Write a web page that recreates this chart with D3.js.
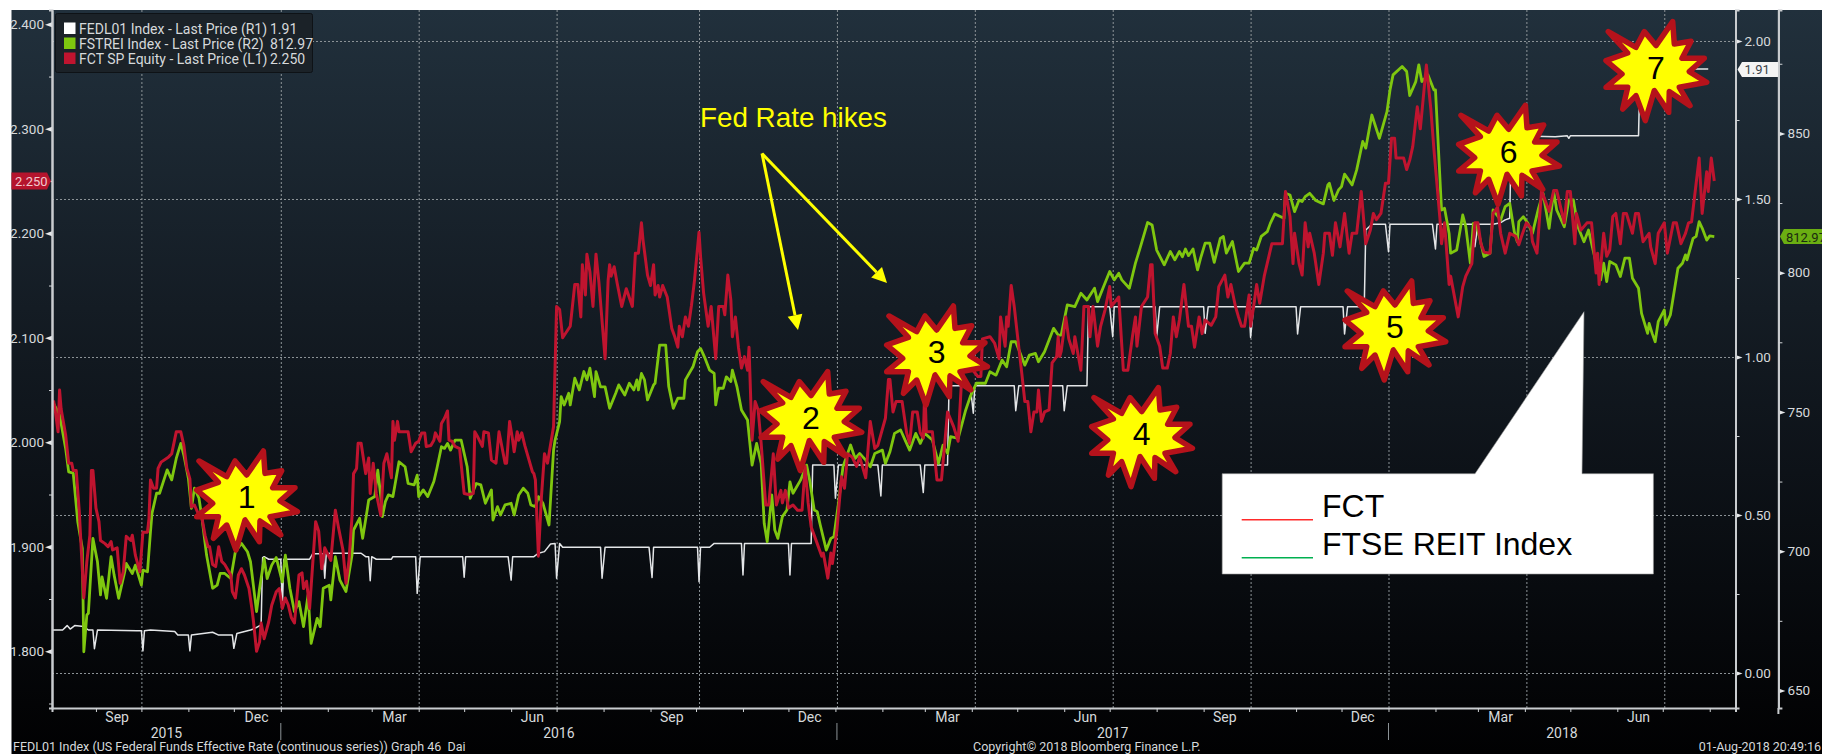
<!DOCTYPE html>
<html>
<head>
<meta charset="utf-8">
<title>FCT vs FTSE REIT Index</title>
<script src="https://cdn.jsdelivr.net/npm/d3@7"></script>
<style>
  html, body { margin: 0; padding: 0; background: #fff; overflow: hidden; }
  svg { display: block; }
  .bbg { font-family: 'Liberation Sans Narrow', 'Roboto', sans-serif; font-size: 14px; fill: #d6d9db; }
  .bbg.small { font-size: 13px; }
  .bbg.footer { font-size: 12.5px; }
  .axis path.domain { stroke: #c9cccf; stroke-width: 2; }
  .axis line { stroke: #d0d3d6; }
  .axis text { font-family: 'Liberation Sans Narrow', 'Roboto', sans-serif; font-size: 13.5px; fill: #d6d9db; }
  .grid path.domain { display: none; }
  .grid line { stroke: #8d9498; stroke-dasharray: 2 2; stroke-width: 1; }
  .slide { font-family: 'Liberation Sans', Arial, sans-serif; }
</style>
</head>
<body>
<script>
const startDate = new Date(2015, 7, 3)
const endDay = 1111

// days since startDate
const fctDays = [1,2,4,5,6,9,11,13,14,16,18,21,23,25,26,27,29,31,32,35,37,39,40,43,45,47,49,52,53,55,58,60,63,64,65,67,69,70,72,77,79,82,85,87,89,91,92,94,97,99,101,103,104,106,108,110,112,114,118,119,121,123,125,127,130,132,133,135,137,138,140,143,145,148,150,152,154,156,158,160,163,165,166,168,170,174,176,178,180,
  184,187,189,192,194,196,198,199,201,202,204,207,209,210,212,214,217,219,221,224,225,226,228,229,235,237,240,242,244,246,247,250,252,253,256,257,259,261,262,264,266,269,272,275,278,279,281,284,285,288,290,293,295,299,300,302,304,305,307,308,310,312,317,318,319,321,323,325,327,328,331,333,335,337,342,345,347,349,350,352,353,355,357,359,361,365,367,
  368,369,371,373,376,379,383,385,387,389,390,393,395,397,398,400,401,403,406,409,411,413,414,416,418,420,422,424,427,428,430,433,435,438,440,443,444,446,448,449,451,453,455,457,459,460,462,464,466,468,471,473,476,478,481,482,484,486,489,492,495,497,499,501,505,508,509,512,514,515,518,521,523,525,528,531,533,537,540,543,545,550,552,
  553,555,557,561,564,566,568,571,573,575,576,577,581,584,587,591,595,598,600,603,606,611,613,614,619,622,625,626,629,630,631,633,635,637,640,642,644,646,648,650,651,653,655,658,660,663,664,665,666,669,671,674,675,679,681,684,685,687,690,692,695,698,699,704,707,710,713,715,716,719,723,725,726,728,731,733,736,
  738,740,742,744,747,750,752,754,757,759,761,765,768,770,774,776,778,781,783,785,787,790,791,793,795,797,800,805,812,814,817,819,820,823,825,827,829,830,833,836,839,840,843,845,847,850,853,856,858,861,864,867,870,872,874,877,880,882,884,886,887,892,894,896,898,901,903,907,910,912,916,917,919,922,
  923,928,931,933,937,939,941,943,945,949,951,954,956,959,962,966,968,970,973,976,977,980,983,987,988,991,993,998,1000,1002,1005,1006,1009,1013,1016,1019,1020,1021,1024,1026,1028,1030,1032,1035,1037,1039,1043,1045,1047,1050,1054,1055,1058,1060,1064,1066,1070,1072,1075,1078,1080,1082,1087,1089,1092,1093,1095,1097]
const fctPrices = [2.040,2.032,2.010,2.050,2.032,2.007,1.980,1.980,1.973,1.973,1.934,1.851,1.886,1.911,1.973,1.973,1.937,1.924,1.906,1.903,1.900,1.905,1.897,1.899,1.865,1.876,1.910,1.906,1.911,1.892,1.876,1.914,1.914,1.927,1.964,1.956,1.956,1.975,1.981,1.986,1.989,2.010,2.010,1.997,1.975,1.965,1.938,1.940,1.930,1.927,1.911,1.900,1.900,1.883,1.881,1.900,1.886,1.883,1.873,1.857,1.851,1.873,1.879,1.873,1.860,1.840,1.828,1.800,1.809,1.827,1.812,1.828,1.844,1.857,1.860,1.841,1.851,1.844,1.832,1.827,1.873,1.875,1.860,1.867,1.841,1.924,1.915,1.879,1.899,
  1.887,1.935,1.919,1.897,1.865,1.887,1.929,1.970,1.975,1.999,1.999,1.970,1.985,1.951,1.980,1.951,1.930,1.980,1.989,1.966,2.020,2.002,2.020,2.010,2.010,1.991,1.999,2.001,2.009,2.009,1.996,1.997,2.002,2.009,2.001,2.018,2.023,2.030,2.002,2.001,1.996,1.994,1.951,1.950,1.951,2.010,2.005,1.996,2.010,2.009,1.983,1.980,2.010,1.980,1.980,2.020,2.002,1.991,2.010,2.002,2.009,1.997,1.972,1.970,1.964,1.891,1.948,1.989,1.980,1.989,2.015,2.130,2.127,2.100,2.111,2.151,2.151,2.120,2.170,2.141,2.180,2.163,2.130,2.180,2.152,2.080,2.155,
  2.170,2.159,2.168,2.152,2.130,2.147,2.130,2.181,2.181,2.210,2.194,2.160,2.150,2.170,2.141,2.150,2.139,2.150,2.139,2.109,2.101,2.091,2.111,2.101,2.120,2.111,2.131,2.155,2.201,2.178,2.143,2.111,2.130,2.080,2.130,2.130,2.122,2.160,2.136,2.101,2.120,2.091,2.071,2.082,2.069,2.091,2.002,2.039,2.031,1.999,1.940,1.940,1.989,1.940,1.954,1.942,1.954,1.937,1.940,1.935,1.935,1.977,1.942,1.919,1.903,1.891,1.894,1.870,1.894,1.884,1.916,1.967,1.956,1.989,1.986,1.977,1.986,1.966,2.020,1.994,1.997,2.023,2.060,
  2.060,2.029,2.039,2.039,2.009,1.999,2.029,2.029,2.009,2.004,2.053,2.010,2.010,1.964,1.964,2.029,2.015,2.001,2.053,2.085,2.072,2.063,2.063,2.099,2.101,2.095,2.080,2.120,2.092,2.120,2.111,2.150,2.130,2.104,2.066,2.039,2.039,2.010,2.029,2.029,2.050,2.020,2.029,2.031,2.076,2.082,2.101,2.082,2.087,2.120,2.099,2.085,2.101,2.069,2.130,2.130,2.101,2.130,2.092,2.111,2.127,2.149,2.130,2.139,2.069,2.069,2.101,2.120,2.092,2.130,2.139,2.170,2.170,2.104,2.092,2.071,2.071,
  2.085,2.120,2.101,2.117,2.151,2.111,2.111,2.091,2.120,2.104,2.117,2.112,2.120,2.149,2.160,2.139,2.151,2.130,2.120,2.111,2.111,2.141,2.111,2.130,2.151,2.133,2.159,2.190,2.190,2.240,2.216,2.171,2.200,2.171,2.160,2.210,2.187,2.200,2.181,2.151,2.181,2.200,2.200,2.179,2.210,2.187,2.219,2.181,2.200,2.200,2.240,2.190,2.203,2.219,2.213,2.219,2.248,2.248,2.291,2.291,2.272,2.272,2.261,2.270,2.283,2.321,2.300,2.361,2.318,2.280,2.213,2.190,2.210,2.151,
  2.159,2.120,2.149,2.159,2.171,2.210,2.210,2.190,2.182,2.181,2.219,2.225,2.200,2.181,2.200,2.197,2.189,2.198,2.210,2.205,2.192,2.181,2.241,2.225,2.221,2.241,2.241,2.210,2.240,2.240,2.190,2.219,2.203,2.210,2.210,2.162,2.181,2.151,2.200,2.178,2.184,2.216,2.219,2.190,2.219,2.219,2.200,2.219,2.219,2.192,2.200,2.187,2.171,2.200,2.210,2.181,2.210,2.210,2.190,2.200,2.210,2.211,2.272,2.219,2.259,2.240,2.272,2.250]

const reitDays = [1,5,9,11,14,17,20,21,23,24,27,30,32,33,36,39,41,44,48,49,53,55,59,60,63,65,66,69,71,76,79,82,85,87,90,92,94,97,99,102,106,109,111,114,118,121,125,129,131,135,137,140,142,145,148,152,154,157,160,163,166,169,171,175,177,179,183,
  184,187,190,194,198,199,203,205,208,209,213,215,217,218,220,222,225,229,233,235,239,241,242,245,248,252,254,257,259,261,263,266,270,274,276,280,283,286,290,291,294,296,299,303,305,308,311,314,316,319,321,324,328,331,332,335,336,338,341,342,345,348,351,353,355,358,359,362,365,
  368,372,374,378,381,384,386,387,389,391,393,397,398,401,405,407,410,413,417,418,423,426,428,431,434,437,438,440,443,445,448,449,452,455,459,462,465,468,470,472,475,477,479,482,485,487,489,494,498,500,503,505,507,511,514,516,519,522,527,530,533,537,540,543,548,550,
  553,556,560,563,566,570,573,576,581,585,588,591,593,598,603,606,610,616,619,623,627,630,633,636,639,642,645,649,651,655,661,664,666,670,675,679,683,688,690,694,698,701,704,706,711,715,718,723,726,729,734,
  738,741,744,746,748,750,753,756,758,761,764,767,771,773,775,779,783,787,790,793,795,798,802,804,807,813,814,817,820,823,825,827,830,834,839,842,843,846,849,851,853,858,861,865,867,871,876,881,883,885,891,894,896,900,902,904,908,912,913,917,919,922,
  923,927,931,933,936,938,940,945,949,951,956,959,962,965,967,968,971,974,977,981,984,988,991,993,998,1001,1004,1007,1011,1014,1019,1022,1024,1026,1028,1032,1035,1038,1041,1043,1047,1049,1053,1054,1056,1058,1060,1064,1065,1068,1073,1076,1078,1079,1083,1085,1087,1089,1092,1094,1097]
const reitValues = [753.1,748.9,736.9,728.5,728,710.6,701,663.9,677.1,677.7,704.6,696.2,684.3,690.8,683.1,698,691.4,683.1,692.6,695.6,692,695,687.8,693.2,692.6,707,713.6,720.8,720.8,729.2,725.6,733.3,738.7,734.5,726.2,715.4,722.6,719,711.8,698.6,686.7,687.8,692,692,690.2,699.8,702.8,699.8,696.2,678.3,686.7,697.4,690.2,695,697.7,689,698.6,686.7,678.3,681.9,672.9,684.3,666.9,675.9,672.9,686.7,687.8,
  682.5,698,689.6,685.5,698.6,707.6,711.8,704.6,714.8,718.4,719.6,729.1,719.6,712.4,717.8,720.2,719.6,732.1,730.3,724.3,723.8,727.3,719.6,722,719.6,725,729.7,737.5,736.9,738.7,736.3,739.9,739.9,730.3,719,724.3,723.8,717.2,722,711.2,716,713,716.6,717.2,713,720.2,722.6,720.8,716.6,716,719.6,717.2,709.4,736.3,739.9,746.5,755.5,752.5,756.7,752.5,762.1,757.9,764.5,761.5,765.7,755.5,764.5,759,759,
  751.3,756.7,759.7,756.1,760.3,757.9,761.5,757.9,763.8,761.5,754.3,759.7,760.3,774,774,759.1,751.3,754.9,754.9,761.5,766.2,771.6,772.8,769.2,765,763.8,752.5,758.5,758.5,762.6,760.9,765,759.1,750.7,747.1,730.9,738.7,731.5,710,703.4,720.2,707.6,704.6,712.4,714.8,724.9,720.8,725.5,730.9,725.5,714.8,714.2,709.4,700.4,704.6,705.2,717.2,730.3,738.1,733.3,735.1,732.7,730.3,735.1,736.3,731.5,
  735.7,742.3,743.5,739.9,736.3,742.3,738.7,742.3,739.9,731.5,738.1,735.1,741.1,740.5,750.7,755.5,760.3,760.3,764.4,763.2,768.6,766.2,775.2,775.2,771,766.8,770.4,771,768,771.6,780,777.6,777.6,788.4,787.8,792.6,790.2,794.4,789.6,795,800.4,797.4,799.8,797.4,794.4,803.4,808.7,818,817.1,808.1,802.8,
  807.6,804.6,807.6,805.7,808.5,806.1,808.5,801,805.2,810.6,810.6,803.7,812.3,813,807,811.2,800.4,803.4,803.4,808.7,808.1,813,814.7,817.7,821.1,819.5,828.5,827.9,821.9,826.1,825.5,827.3,828.5,825.9,824.7,831.5,832.1,825.9,829.7,830.9,835.4,831.5,836.9,847.1,844.7,856.6,848.2,857.8,865.6,871,874,872.2,863.6,868.6,874.6,868.6,871,865.6,865.6,822.5,823.1,814.1,
  807,808.1,820.7,816.5,803.4,817.7,817.7,805.8,807,822.5,818.9,823.7,824.9,814.7,811.1,818.3,820.1,817.7,814.1,823.1,828.5,815.9,829.1,822.5,816.5,826.1,826.1,816.5,811.1,815.3,803.4,797.4,803.4,796.8,804,802.8,798.6,805.2,805.2,798,794.4,785.4,778.2,781.8,778.2,775.2,782.4,786.6,781.2,784.8,801.6,803.4,806.4,804.6,812.3,813,818.3,816,811.7,813.2,812.97]

const fedDays = [0,7,10,12,15,21,24,27,28,30,56,59,60,61,65,81,83,90,91,92,106,110,119,120,122,131,133,138,139,140,143,151,152,153,170,172,179,180,181,184,204,207,209,210,211,214,224,225,240,241,243,271,272,273,301,303,304,318,321,325,329,332,333,335,337,362,363,365,394,396,397,426,427,428,434,437,455,456,457,486,487,488,501,502,516,517,519,545,547,548,573,575,576,591,592,606,608,609,635,636,638,667,668,670,683,684,698,700,701,728,729,731,760,761,763,790,791,793,821,822,824,852,853,855,866,867,871,880,882,883,911,913,914,938,939,941,951,956,959,962,963,992,1000,1001,1002,1047,1048,1093]
const fedRates = [.136,.136,.150,.139,.150,.147,.136,.136,.077,.136,.134,.134,.070,.134,.136,.131,.120,.120,.070,.120,.129,.120,.120,.078,.125,.136,.139,.152,.365,.368,.360,.360,.205,.360,.360,.377,.377,.300,.377,.379,.379,.368,.368,.292,.368,.360,.360,.368,.368,.252,.368,.368,.303,.368,.368,.294,.368,.368,.379,.384,.408,.410,.300,.410,.398,.398,.300,.398,.398,.302,.398,.398,.289,.398,.398,.410,.410,.310,.410,.410,.310,.410,.410,.658,.658,.553,.658,.658,.560,.658,.658,.571,.658,.658,.909,.909,.822,.909,.909,.830,.909,.909,.830,.909,.909,1.159,1.159,1.064,1.159,1.159,1.064,1.159,1.159,1.075,1.159,1.159,1.062,1.159,1.159,1.073,1.159,1.159,1.073,1.159,1.159,1.402,1.420,1.420,1.333,1.420,1.420,1.342,1.420,1.420,1.349,1.420,1.420,1.425,1.434,1.439,1.70,1.697,1.70,1.692,1.70,1.70,1.911,1.911]

const leftTicks = [1.8, 1.9, 2.0, 2.1, 2.2, 2.3, 2.4]
const leftMinor = [1.75, 1.85, 1.95, 2.05, 2.15, 2.25, 2.35]
const rateTicks = [0, 0.5, 1, 1.5, 2]
const rateMinor = [0.25, 0.75, 1.25, 1.75]
const reitTicks = [650, 700, 750, 800, 850]
const reitMinor = [675, 725, 775, 825, 875]

const parseDay = d3.timeParse('%Y-%m-%d')
const quarterStarts = ['2015-10-01', '2016-01-01', '2016-04-01', '2016-07-01', '2016-10-03', '2017-01-02', '2017-04-03', '2017-07-03', '2017-10-02', '2018-01-01', '2018-04-02', '2018-07-02'].map(parseDay)
const yearStarts = ['2016-01-01', '2017-01-02', '2018-01-01'].map(parseDay)
const yearLabels = ['2015', '2016', '2017', '2018']
const monthLabels = [['Sep', '2015-09-15'], ['Dec', '2015-12-16'], ['Mar', '2016-03-16'], ['Jun', '2016-06-15'], ['Sep', '2016-09-15'], ['Dec', '2016-12-15'], ['Mar', '2017-03-16'], ['Jun', '2017-06-15'], ['Sep', '2017-09-15'], ['Dec', '2017-12-15'], ['Mar', '2018-03-16'], ['Jun', '2018-06-15']]

const legendRows = [
  { name: 'FEDL01 Index - Last Price (R1)', last: '1.91', color: '#ffffff' },
  { name: 'FSTREI Index - Last Price (R2)', last: '812.97', color: '#7fc70f' },
  { name: 'FCT SP Equity - Last Price (L1)', last: '2.250', color: '#c0142f' },
]

const stars = [
  { label: '1', cx: 246.7, cy: 496.7 },
  { label: '2', cx: 811, cy: 417.3 },
  { label: '3', cx: 936.7, cy: 351.7 },
  { label: '4', cx: 1141.7, cy: 433.3 },
  { label: '5', cx: 1395, cy: 326.7 },
  { label: '6', cx: 1508.7, cy: 151 },
  { label: '7', cx: 1656, cy: 67.3 },
]
const starOutline = [[-47.7,-35.7],[-20,-20],[-11.7,-35.7],[0,-21.7],[16.7,-45.7],[18.3,-23.3],[35,-26],[26,-9],[48.3,-9],[33.3,4.3],[50.7,15],[23.3,20],[34,38.3],[13.3,24.3],[12.7,45],[-1.7,23.3],[-10.7,53.3],[-20,28.3],[-33.3,41.7],[-28.3,20],[-50,20],[-34,6.7],[-50,-6.7],[-28.3,-14.3]]

const WIDTH = 1822
const HEIGHT = 754
const plot = { left: 52, right: 1735.5, top: 10, bottom: 708 }
const rightAxisX = 1778.4

const dayDate = n => d3.timeDay.offset(startDate, n)

const x = d3.scaleTime().domain([startDate, dayDate(endDay)]).range([plot.left, plot.right])
const yFct = d3.scaleLinear().domain([1.7457, 2.4137]).range([plot.bottom, plot.top])
const yRate = d3.scaleLinear().domain([-0.1108, 2.0981]).range([plot.bottom, plot.top])
const yReit = d3.scaleLinear().domain([643.7, 894.3]).range([plot.bottom, plot.top])

const svg = d3.select('body').append('svg')
  .attr('width', WIDTH)
  .attr('height', HEIGHT)

const gradient = svg.append('defs').append('linearGradient')
  .attr('id', 'bg')
  .attr('x1', 0).attr('y1', 0).attr('x2', 0).attr('y2', 1)
gradient.append('stop').attr('offset', '0%').attr('stop-color', '#21303c')
gradient.append('stop').attr('offset', '40%').attr('stop-color', '#141c24')
gradient.append('stop').attr('offset', '62%').attr('stop-color', '#0d1218')
gradient.append('stop').attr('offset', '100%').attr('stop-color', '#010102')

svg.append('rect')
  .attr('x', 11.5).attr('y', plot.top)
  .attr('width', WIDTH - 11.5).attr('height', HEIGHT - plot.top)
  .attr('fill', 'url(#bg)')

// grid
svg.append('g')
  .attr('class', 'grid')
  .attr('transform', `translate(0,${plot.bottom})`)
  .call(d3.axisBottom(x).tickValues(quarterStarts).tickSize(-(plot.bottom - plot.top)).tickFormat(''))

svg.append('g')
  .attr('class', 'grid')
  .attr('transform', `translate(${plot.left},0)`)
  .call(d3.axisRight(yRate).tickValues(rateTicks).tickSize(plot.right - plot.left).tickFormat(''))

// series
const drawSeries = (days, values, y, color, width) => {
  const line = d3.line().x(d => x(dayDate(d[0]))).y(d => y(d[1]))
  svg.append('path')
    .datum(d3.zip(days, values))
    .attr('d', line)
    .attr('fill', 'none')
    .attr('stroke', color)
    .attr('stroke-width', width)
    .attr('stroke-linejoin', 'round')
}

drawSeries(fedDays, fedRates, yRate, '#e4e6e8', 1.5)
drawSeries(reitDays, reitValues, yReit, '#7fc70f', 2.8)
drawSeries(fctDays, fctPrices, yFct, '#c0142f', 3)

// axes
const arrow = (sel, dir) => sel.selectAll('.tick').append('path')
  .attr('d', dir < 0 ? 'M0,-2.5L0,2.5L-7,0Z' : 'M0,-2.5L0,2.5L7,0Z')
  .attr('fill', '#e6e8ea')

const leftAxis = svg.append('g').attr('class', 'axis')
  .attr('transform', `translate(${plot.left},0)`)
  .call(d3.axisLeft(yFct).tickValues(leftTicks).tickSize(0).tickPadding(8).tickFormat(d3.format('.3f')))
arrow(leftAxis, -1)
svg.append('g').attr('class', 'axis minor')
  .attr('transform', `translate(${plot.left},0)`)
  .call(d3.axisLeft(yFct).tickValues(leftMinor).tickSize(3).tickFormat(''))

const rateAxis = svg.append('g').attr('class', 'axis')
  .attr('transform', `translate(${plot.right},0)`)
  .call(d3.axisRight(yRate).tickValues(rateTicks).tickSize(0).tickPadding(9).tickFormat(d3.format('.2f')))
arrow(rateAxis, 1)
svg.append('g').attr('class', 'axis minor')
  .attr('transform', `translate(${plot.right},0)`)
  .call(d3.axisRight(yRate).tickValues(rateMinor).tickSize(4).tickFormat(''))

const reitAxis = svg.append('g').attr('class', 'axis')
  .attr('transform', `translate(${rightAxisX},0)`)
  .call(d3.axisRight(yReit).tickValues(reitTicks).tickSize(0).tickPadding(9).tickFormat(d3.format('d')))
arrow(reitAxis, 1)
svg.append('g').attr('class', 'axis minor')
  .attr('transform', `translate(${rightAxisX},0)`)
  .call(d3.axisRight(yReit).tickValues(reitMinor).tickSize(4).tickFormat(''))

svg.append('g').attr('class', 'axis')
  .attr('transform', `translate(0,${plot.bottom})`)
  .call(d3.axisBottom(x).tickValues(d3.timeMonth.range(dayDate(10), dayDate(endDay))).tickSize(4).tickFormat(''))

svg.append('line')
  .attr('x1', rightAxisX).attr('x2', rightAxisX)
  .attr('y1', plot.bottom).attr('y2', 714)
  .attr('stroke', '#c9cccf').attr('stroke-width', 2)

// bottom labels
svg.selectAll('.month').data(monthLabels).enter().append('text')
  .attr('class', 'bbg')
  .attr('x', d => x(parseDay(d[1])))
  .attr('y', 722)
  .attr('text-anchor', 'middle')
  .text(d => d[0])

const yearEdges = [dayDate(0), ...yearStarts, dayDate(endDay)]
svg.selectAll('.year').data(yearLabels).enter().append('text')
  .attr('class', 'bbg')
  .attr('x', (d, i) => (x(yearEdges[i]) + x(yearEdges[i + 1])) / 2)
  .attr('y', 738)
  .attr('text-anchor', 'middle')
  .text(d => d)

svg.selectAll('.year-sep').data(yearStarts).enter().append('line')
  .attr('x1', d => x(d)).attr('x2', d => x(d))
  .attr('y1', 723).attr('y2', 740)
  .attr('stroke', '#8d9498')

const footer = [
  ['FEDL01 Index (US Federal Funds Effective Rate (continuous series)) Graph 46  Dai', 13, 'start'],
  ['Copyright\u00a9 2018 Bloomberg Finance L.P.', 973, 'start'],
  ['01-Aug-2018 20:49:16', 1821, 'end'],
]
svg.selectAll('.footer').data(footer).enter().append('text')
  .attr('class', 'bbg footer')
  .attr('x', d => d[1])
  .attr('y', 751)
  .attr('text-anchor', d => d[2])
  .style('white-space', 'pre')
  .text(d => d[0])

// last-price tags
const yLastFct = yFct(+legendRows[2].last)
svg.append('path')
  .attr('d', `M11.5,${yLastFct - 8.5}H47L51,${yLastFct}L47,${yLastFct + 8.5}H11.5Z`)
  .attr('fill', '#b5142d')
svg.append('text').attr('class', 'bbg small')
  .attr('x', 15).attr('y', yLastFct + 5)
  .style('fill', '#f2c9cf')
  .text(legendRows[2].last)

const yLastRate = yRate(+legendRows[0].last)
svg.append('path')
  .attr('d', `M1778,${yLastRate - 7.5}H1742L1737.5,${yLastRate}L1742,${yLastRate + 7.5}H1778Z`)
  .attr('fill', '#f4f4f4')
svg.append('text').attr('class', 'bbg small')
  .attr('x', 1744.5).attr('y', yLastRate + 5)
  .style('fill', '#3a4248')
  .text(legendRows[0].last)

const yLastReit = yReit(+legendRows[1].last)
svg.append('path')
  .attr('d', `M1822,${yLastReit - 7.5}H1784L1780,${yLastReit}L1784,${yLastReit + 7.5}H1822Z`)
  .attr('fill', '#6aae12')
svg.append('text').attr('class', 'bbg small')
  .attr('x', 1786).attr('y', yLastReit + 5)
  .style('fill', '#1b2a10')
  .text(legendRows[1].last)

// legend box
svg.append('rect')
  .attr('x', 55.5).attr('y', 13.5)
  .attr('width', 257).attr('height', 59)
  .attr('rx', 2)
  .attr('fill', '#1b2228')
  .attr('stroke', '#0e1216')

const legend = svg.selectAll('.legend-row').data(legendRows).enter().append('g')
  .attr('transform', (d, i) => `translate(0,${28.5 + i * 15})`)
legend.append('rect')
  .attr('x', 64).attr('y', -6)
  .attr('width', 11.5).attr('height', 11.5)
  .attr('fill', d => d.color)
legend.append('text').attr('class', 'bbg')
  .attr('x', 79).attr('y', 5)
  .text(d => d.name)
legend.append('text').attr('class', 'bbg')
  .attr('x', 270).attr('y', 5)
  .text(d => d.last)

// slide annotations
const annotation = svg.append('g').attr('class', 'slide')

annotation.append('text')
  .attr('x', 700).attr('y', 126.5)
  .attr('font-size', 27.8)
  .attr('fill', '#ffff00')
  .text('Fed Rate hikes')

const drawArrow = (x1, y1, x2, y2) => {
  const angle = Math.atan2(y2 - y1, x2 - x1)
  const len = 15
  const half = 7.5
  const bx = x2 - len * Math.cos(angle)
  const by = y2 - len * Math.sin(angle)
  annotation.append('line')
    .attr('x1', x1).attr('y1', y1).attr('x2', bx).attr('y2', by)
    .attr('stroke', '#ffff00').attr('stroke-width', 3)
  annotation.append('path')
    .attr('d', `M${x2},${y2}L${bx - half * Math.sin(angle)},${by + half * Math.cos(angle)}L${bx + half * Math.sin(angle)},${by - half * Math.cos(angle)}Z`)
    .attr('fill', '#ffff00')
}
drawArrow(762, 153.5, 798, 330)
drawArrow(762, 153.5, 887, 283)

annotation.append('path')
  .attr('d', 'M1222.2,473.7H1475L1584,311.7L1582,473.7H1653.4V574H1222.2Z')
  .attr('fill', '#ffffff')
  .attr('stroke', '#9a9a9a')
  .attr('stroke-width', 0.6)

annotation.append('line')
  .attr('x1', 1241.7).attr('x2', 1313).attr('y1', 519.7).attr('y2', 519.7)
  .attr('stroke', '#ff2a2a').attr('stroke-width', 1.5)
annotation.append('line')
  .attr('x1', 1241.7).attr('x2', 1313).attr('y1', 557.7).attr('y2', 557.7)
  .attr('stroke', '#00b050').attr('stroke-width', 1.5)
annotation.append('text')
  .attr('x', 1322).attr('y', 516.7)
  .attr('font-size', 32).attr('fill', '#000')
  .text('FCT')
annotation.append('text')
  .attr('x', 1322).attr('y', 554.7)
  .attr('font-size', 32).attr('fill', '#000')
  .text('FTSE REIT Index')

const star = annotation.selectAll('.star').data(stars).enter().append('g')
  .attr('transform', d => `translate(${d.cx},${d.cy})`)
star.append('polygon')
  .attr('points', starOutline.map(p => p.join(',')).join(' '))
  .attr('fill', '#ffff00')
  .attr('stroke', '#b5121b')
  .attr('stroke-width', 5.5)
  .attr('stroke-linejoin', 'round')
star.append('text')
  .attr('text-anchor', 'middle')
  .attr('y', 11.5)
  .attr('font-size', 32)
  .attr('fill', '#000')
  .text(d => d.label)
</script>
</body>
</html>
